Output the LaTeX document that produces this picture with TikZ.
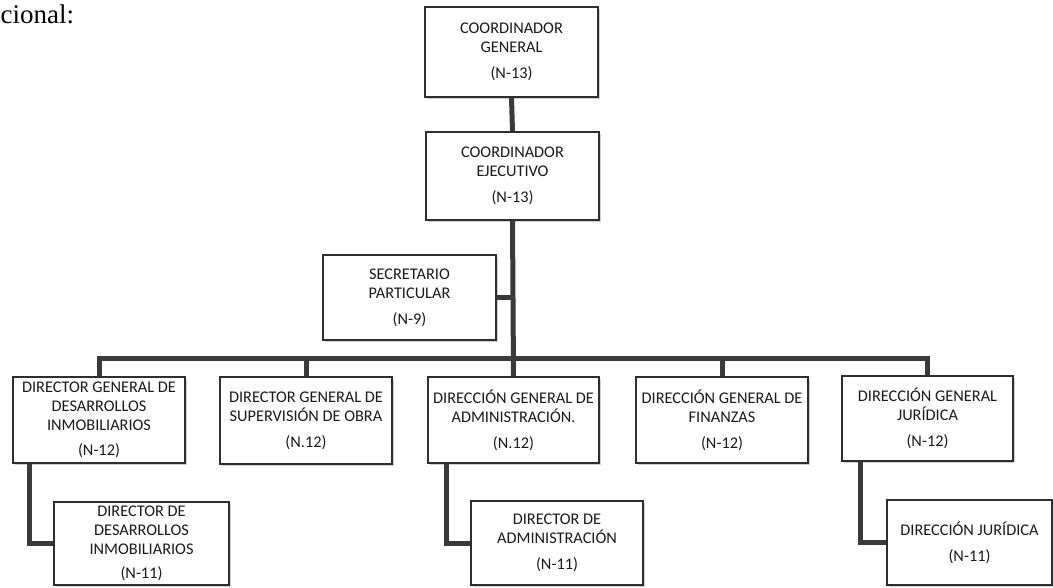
\documentclass[tikz,border=0pt]{standalone}
\usepackage{fontspec}
\setmainfont{Carlito}
\newfontfamily\seriffont{Liberation Serif}
\usetikzlibrary{shadows}
\definecolor{linecol}{HTML}{3A3A3A}
\definecolor{boxline}{HTML}{2E2E2E}
\definecolor{textcol}{HTML}{1A1A1A}
\begin{document}
\begin{tikzpicture}[x=1pt,y=-1pt,
  orgbox/.style={draw=boxline, line width=1.2pt, fill=white, rectangle, inner sep=0pt,
    align=center, text=textcol, font=\fontsize{16.3}{19}\selectfont,
    drop shadow={shadow xshift=1.5pt, shadow yshift=-2pt, fill=gray!45, opacity=0.8}},
  conn/.style={draw=linecol, line width=5pt}]
\useasboundingbox (0,0) rectangle (1053,588);
\fill[white] (0,0) rectangle (1053,588);

\node[anchor=base west, font=\seriffont\fontsize{27}{30}\selectfont, inner sep=0pt] (title) at (0.5,24) {cional:};

% boxes
\node[orgbox, minimum width=173pt, minimum height=90pt] (cg) at (511.5,52)
  {COORDINADOR\\GENERAL\\[7pt](N-13)};
\node[orgbox, minimum width=173pt, minimum height=88pt] (ce) at (512.5,176)
  {COORDINADOR\\EJECUTIVO\\[7pt](N-13)};
\node[orgbox, minimum width=173pt, minimum height=85pt] (sec) at (409.5,297.5)
  {SECRETARIO\\PARTICULAR\\[7pt](N-9)};

\node[orgbox, minimum width=172pt, minimum height=86pt] (b1) at (99,420)
  {DIRECTOR GENERAL DE\\DESARROLLOS\\INMOBILIARIOS\\[6pt](N-12)};
\node[orgbox, minimum width=172pt, minimum height=87pt] (b2) at (306,420.5)
  {DIRECTOR GENERAL DE\\SUPERVISIÓN DE OBRA\\[7pt](N.12)};
\node[orgbox, minimum width=171pt, minimum height=86pt] (b3) at (513.5,420)
  {DIRECCIÓN GENERAL DE\\ADMINISTRACIÓN.\\[7pt](N.12)};
\node[orgbox, minimum width=172pt, minimum height=86pt] (b4) at (722,420)
  {DIRECCIÓN GENERAL DE\\FINANZAS\\[7pt](N-12)};
\node[orgbox, minimum width=171pt, minimum height=85pt] (b5) at (927.5,418.5)
  {DIRECCIÓN GENERAL\\JURÍDICA\\[7pt](N-12)};

\node[orgbox, minimum width=175pt, minimum height=83pt] (c1) at (141.5,543.5)
  {DIRECTOR DE\\DESARROLLOS\\INMOBILIARIOS\\[5pt](N-11)};
\node[orgbox, minimum width=172pt, minimum height=84pt] (c3) at (557,543)
  {DIRECTOR DE\\ADMINISTRACIÓN\\[7pt](N-11)};
\node[orgbox, minimum width=165pt, minimum height=85pt] (c5) at (969.5,542.5)
  {DIRECCIÓN JURÍDICA\\[7pt](N-11)};

\coordinate (bus) at (512.5,358);

\draw[conn] (cg.south) -- (ce.north);
\draw[conn] (ce.south) -- (b3.north);
\draw[conn] (sec.east) -- (sec.east -| ce.south);
\draw[conn] (b1.north) |- (bus) -| (b5.north);
\draw[conn] (b2.north) -- (b2.north |- bus);
\draw[conn] (b4.north) -- (b4.north |- bus);
\draw[conn] ([xshift=17pt]b1.south west) |- (c1.west);
\draw[conn] ([xshift=19pt]b3.south west) |- (c3.west);
\draw[conn] ([xshift=19pt]b5.south west) |- (c5.west);
\end{tikzpicture}
\end{document}
